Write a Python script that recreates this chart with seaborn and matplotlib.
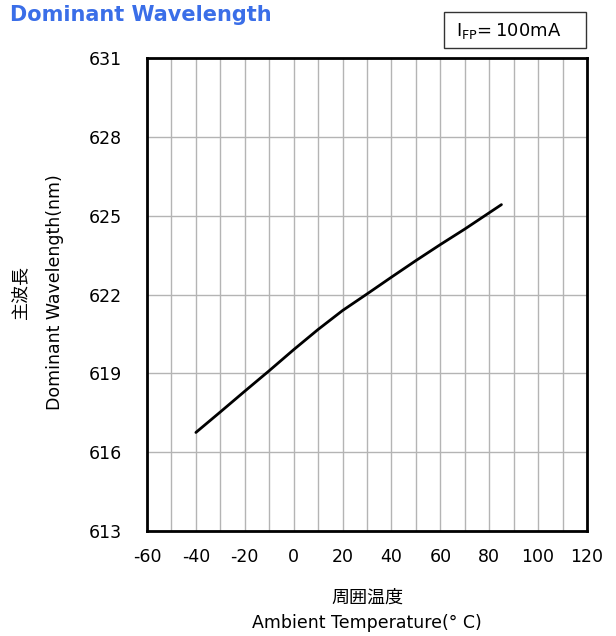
import numpy as np
import pandas as pd
import matplotlib
matplotlib.use("Agg")
import matplotlib.pyplot as plt
import matplotlib.patches as mpatches
import seaborn as sns

# data
temp_c = [-40, -30, -20, -10, 0, 10, 20, 30, 40, 50, 60, 70, 85]
wavelength_nm = [616.75, 617.53, 618.32, 619.10, 619.90, 620.67, 621.39, 622.02,
                 622.66, 623.29, 623.90, 624.49, 625.42]
x_ticks = [-60, -40, -20, 0, 20, 40, 60, 80, 100, 120]
y_ticks = [613, 616, 619, 622, 625, 628, 631]

sns.set_style("white")
plt.rcParams['font.family'] = ['DejaVu Sans', 'Noto Sans CJK JP']
plt.rcParams['axes.unicode_minus'] = False
plt.rcParams['text.color'] = 'black'
plt.rcParams['xtick.color'] = 'black'
plt.rcParams['ytick.color'] = 'black'
cjk = ['Noto Sans CJK JP', 'DejaVu Sans']

df = pd.DataFrame({'temp': temp_c, 'wl': wavelength_nm})

fig = plt.figure(figsize=(6.16, 6.36), dpi=100)
ax = fig.add_axes([147/616, 1 - 531/636, 440/616, 473/636])

sns.lineplot(data=df, x='temp', y='wl', ax=ax, color='black', linewidth=2)

ax.set_xlim(-60, 120)
ax.set_ylim(613, 631)
ax.set_xticks(np.arange(-60, 121, 10), minor=True)
ax.set_xticks(x_ticks)
ax.set_yticks(y_ticks)
ax.grid(which='both', axis='x', color='#b4b4b4', linewidth=1)
ax.grid(which='major', axis='y', color='#b4b4b4', linewidth=1)
ax.tick_params(axis='both', which='both', length=0, labelsize=12.5)
ax.tick_params(axis='y', pad=18)
ax.tick_params(axis='x', pad=12)
for s in ax.spines.values():
    s.set_linewidth(2)
    s.set_color('black')
ax.set_xlabel('')
ax.set_ylabel('')

# title and condition box
fig.text(10/616, 1 - 15/636, 'Dominant Wavelength', color='#3a6ee8', fontsize=15,
         weight='bold', ha='left', va='center')
fig.patches.append(mpatches.Rectangle((444/616, 1 - 48/636), 142/616, 36/636,
                                      transform=fig.transFigure, facecolor='white',
                                      edgecolor='#333333', linewidth=1))
fig.text(456/616, 1 - 31/636, '$\\mathregular{I_{FP}}$=\u2009100mA', fontsize=13,
         ha='left', va='center')

# axis labels
fig.text(20/616, 1 - 292/636, '主波長', family=cjk, fontsize=13, rotation=90,
         ha='center', va='center')
fig.text(55/616, 1 - 292/636, 'Dominant Wavelength(nm)', fontsize=12.5, rotation=90,
         ha='center', va='center')
fig.text(367/616, 1 - 598/636, '周囲温度', family=cjk, fontsize=13,
         ha='center', va='center')
fig.text(367/616, 1 - 623/636, 'Ambient Temperature(° C)', fontsize=12.5,
         ha='center', va='center')

plt.savefig('out.png', dpi=100)
plt.close()
